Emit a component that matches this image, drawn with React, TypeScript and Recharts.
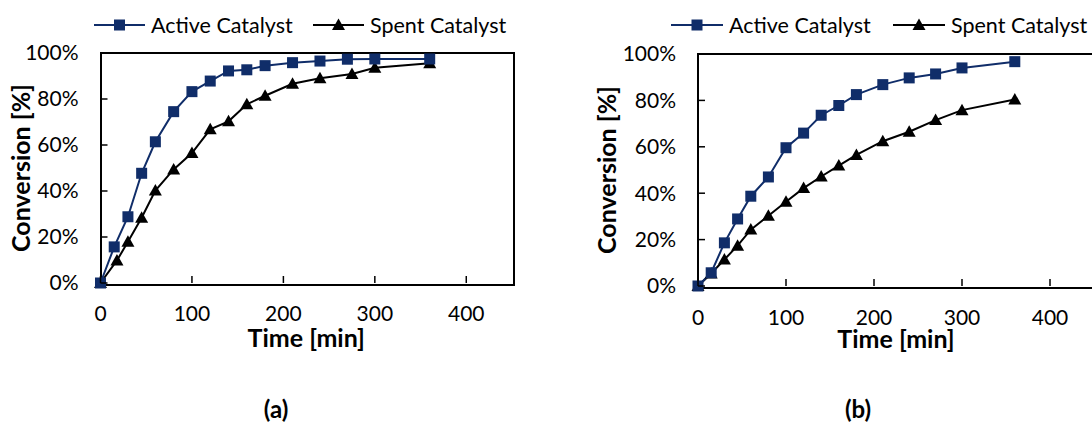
import React from "react";
import { Label, Line, LineChart, XAxis, YAxis } from "recharts";

// conversion vs time, two catalyst states, two runs
const activeTimeA = [0, 15, 30, 45, 60, 80, 100, 120, 140, 160, 180, 210, 240, 270, 300, 360];
const activeConvA = [0, 15.7, 28.8, 47.7, 61.4, 74.5, 83.2, 87.8, 92.2, 92.7, 94.5, 95.8, 96.5, 97.3, 97.4, 97.4];
const spentTimeA = [0, 18, 30, 45, 60, 80, 100, 120, 140, 160, 180, 210, 240, 275, 300, 360];
const spentConvA = [0, 9.8, 17.9, 28.4, 40.2, 49.4, 56.5, 66.8, 70.3, 77.7, 81.4, 86.6, 89.0, 90.9, 93.6, 95.5];

const timeB = [0, 15, 30, 45, 60, 80, 100, 120, 140, 160, 180, 210, 240, 270, 300, 360];
const activeConvB = [0, 5.7, 18.6, 28.9, 38.7, 47.0, 59.6, 65.9, 73.6, 77.8, 82.5, 86.8, 89.7, 91.4, 94.0, 96.7];
const spentConvB = [0, 5.4, 11.4, 17.4, 24.3, 30.3, 36.3, 42.2, 47.2, 51.9, 56.5, 62.4, 66.5, 71.5, 75.8, 80.4];

const timeTicks = [0, 100, 200, 300, 400];
const convTicks = [0, 20, 40, 60, 80, 100];
const seriesNames = ["Active Catalyst", "Spent Catalyst"];

const FONT = "Lato, 'Open Sans', sans-serif";
const NAVY = "#102d69";
const TICK_FS = 21;
const TITLE_FS = 25;

type Pt = { t: number; v: number };
const zip = (ts: number[], vs: number[]): Pt[] => ts.map((t, i) => ({ t, v: vs[i] }));

const squareDot = (p: any) => (
  <rect key={`sq-${p.index}`} x={p.cx - 5.5} y={p.cy - 5.5} width={11} height={11} fill={NAVY} />
);
const triangleDot = (p: any) => (
  <polygon
    key={`tr-${p.index}`}
    points={`${p.cx},${p.cy - 6.5} ${p.cx + 6.5},${p.cy + 5} ${p.cx - 6.5},${p.cy + 5}`}
    fill="#000"
  />
);

function LegendEntry({ left, lineW, marker, text }: { left: number; lineW: number; marker: "square" | "triangle"; text: string }) {
  const c = lineW / 2;
  return (
    <div style={{ position: "absolute", left, top: 11, height: 28, display: "flex", alignItems: "center" }}>
      <svg width={lineW} height={16} style={{ display: "block" }}>
        {marker === "square" ? (
          <>
            <line x1={0} x2={lineW} y1={8} y2={8} stroke={NAVY} strokeWidth={2} />
            <rect x={c - 5.5} y={2.5} width={11} height={11} fill={NAVY} />
          </>
        ) : (
          <>
            <line x1={0} x2={lineW} y1={8} y2={8} stroke="#000" strokeWidth={2} />
            <polygon points={`${c},1.5 ${c + 6.5},13 ${c - 6.5},13`} fill="#000" />
          </>
        )}
      </svg>
      <span style={{ marginLeft: 6, fontSize: 21.5, color: "#000", whiteSpace: "nowrap" }}>{text}</span>
    </div>
  );
}

type PanelProps = {
  left: number;
  width: number;
  plot: [number, number, number, number]; // page coords: left, top, right, bottom
  active: Pt[];
  spent: Pt[];
  tickGap: number;
  titleY: number;
  yTitleX: number;
};

const CHART_H = 360;

function Panel({ left, width, plot, active, spent, tickGap, titleY, yTitleX }: PanelProps) {
  const [pl, pt, pr, pb] = plot;
  const yAxisW = pl - left;
  const xAxisH = CHART_H - pb;

  const xTick = (p: any) => (
    <g key={`xt-${p.index}`}>
      <line x1={p.x} x2={p.x} y1={p.y} y2={p.y - 7} stroke="#000" strokeWidth={1.5} />
      <text x={p.x} y={p.y + tickGap} dy="0.35em" textAnchor="middle" fontSize={TICK_FS} fontFamily={FONT} fill="#000">
        {p.payload.value}
      </text>
    </g>
  );
  const yTick = (p: any) => (
    <g key={`yt-${p.index}`}>
      <line x1={p.x} x2={p.x + 7} y1={p.y} y2={p.y} stroke="#000" strokeWidth={1.5} />
      <text x={p.x - 22} y={p.y} dy="0.35em" textAnchor="end" fontSize={TICK_FS} fontFamily={FONT} fill="#000">
        {`${p.payload.value}%`}
      </text>
    </g>
  );

  return (
    <>
      <div
        style={{
          position: "absolute",
          left: pl - 1,
          top: pt - 1,
          width: pr - pl,
          height: pb - pt,
          border: "2px solid #000",
        }}
      />
      <div style={{ position: "absolute", left, top: 0, width, height: CHART_H }}>
        <LineChart width={width} height={CHART_H} margin={{ top: pt, right: left + width - pr, bottom: 0, left: 0 }}>
          <XAxis
            dataKey="t"
            type="number"
            domain={[0, 450]}
            ticks={timeTicks}
            interval={0}
            height={xAxisH}
            axisLine={false}
            tickLine={false}
            tickSize={0}
            tickMargin={0}
            tick={xTick}
          >
            {/* baseline sits ~0.36em below the cap centre */}
            <Label
              value="Time [min]"
              position="insideBottom"
              offset={CHART_H - (titleY + 0.36 * TITLE_FS)}
              style={{ fontFamily: FONT, fontSize: TITLE_FS, fontWeight: 700, fill: "#000" }}
            />
          </XAxis>
          <YAxis
            type="number"
            domain={[0, 100]}
            ticks={convTicks}
            interval={0}
            width={yAxisW}
            axisLine={false}
            tickLine={false}
            tickSize={0}
            tickMargin={0}
            tick={yTick}
          >
            <Label
              value="Conversion [%]"
              position="insideLeft"
              angle={-90}
              offset={yTitleX - left}
              style={{ fontFamily: FONT, fontSize: TITLE_FS, fontWeight: 700, fill: "#000", textAnchor: "middle" }}
            />
          </YAxis>
          <Line
            data={spent}
            dataKey="v"
            name={seriesNames[1]}
            type="linear"
            stroke="#000"
            strokeWidth={2}
            dot={triangleDot}
            activeDot={false}
            isAnimationActive={false}
          />
          <Line
            data={active}
            dataKey="v"
            name={seriesNames[0]}
            type="linear"
            stroke={NAVY}
            strokeWidth={2}
            dot={squareDot}
            activeDot={false}
            isAnimationActive={false}
          />
        </LineChart>
      </div>
    </>
  );
}

export default function App() {
  return (
    <div
      style={{
        position: "absolute",
        left: 0,
        top: 0,
        width: 1092,
        height: 427,
        overflow: "hidden",
        background: "#fff",
        fontFamily: FONT,
      }}
    >
      <LegendEntry left={94} lineW={51} marker="square" text={seriesNames[0]} />
      <LegendEntry left={313} lineW={51} marker="triangle" text={seriesNames[1]} />
      <LegendEntry left={671} lineW={52} marker="square" text={seriesNames[0]} />
      <LegendEntry left={893} lineW={52} marker="triangle" text={seriesNames[1]} />

      <Panel
        left={0}
        width={530}
        plot={[100.5, 53, 512, 283]}
        active={zip(activeTimeA, activeConvA)}
        spent={zip(spentTimeA, spentConvA)}
        tickGap={30.5}
        titleY={338}
        yTitleX={21}
      />
      <Panel
        left={590}
        width={510}
        plot={[698, 54, 1094, 286]}
        active={zip(timeB, activeConvB)}
        spent={zip(timeB, spentConvB)}
        tickGap={32}
        titleY={339}
        yTitleX={607}
      />

      <div style={{ position: "absolute", left: 251, top: 394, width: 50, textAlign: "center", fontSize: 24, fontWeight: 700 }}>
        (a)
      </div>
      <div style={{ position: "absolute", left: 833, top: 394, width: 50, textAlign: "center", fontSize: 24, fontWeight: 700 }}>
        (b)
      </div>
    </div>
  );
}
